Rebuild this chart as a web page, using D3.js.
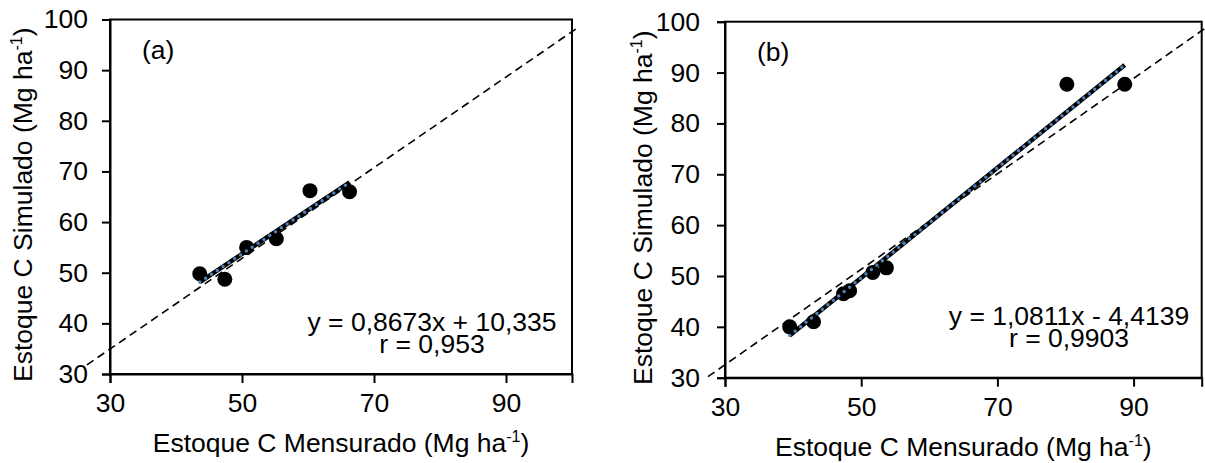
<!DOCTYPE html>
<html>
<head>
<meta charset="utf-8">
<script src="https://cdn.jsdelivr.net/npm/d3@7"></script>
<style>
  html, body { margin: 0; padding: 0; background: #fff; }
  svg { display: block; }
  text { font-family: "Liberation Sans", Arial, sans-serif; fill: #000; }
</style>
</head>
<body>
<svg id="chart" width="1205" height="463"></svg>
<script>
// Axis ticks shared by both panels
const xTicks = [30, 50, 70, 90];
const yTicks = [30, 40, 50, 60, 70, 80, 90, 100];

// Panel (a): measured vs simulated carbon stock
const measuredA  = [43.6, 47.4, 50.7, 55.2, 60.3, 66.3];
const simulatedA = [49.8, 48.7, 55.0, 56.7, 66.2, 66.0];
const fitA = [0.8673, 10.335];           // slope, intercept
const eqA = ["y = 0,8673x + 10,335", "r = 0,953"];
const refA = [[26.5, 31.8], [100.9, 98.4]];

// Panel (b)
const measuredB  = [39.5, 43.0, 47.4, 48.3, 51.7, 53.7, 80.2, 88.7];
const simulatedB = [40.0, 41.0, 46.5, 47.1, 50.7, 51.6, 87.7, 87.7];
const fitB = [1.0811, -4.4139];
const eqB = ["y = 1,0811x - 4,4139", "r = 0,9903"];
const refB = [[27.5, 30.2], [100.6, 98.8]];

const svg = d3.select("#chart");
const FS = 26.5;

function panel(opt) {
  const x = d3.scaleLinear().domain([30, 100]).range([opt.left, opt.right]);
  const y = d3.scaleLinear().domain([30, 100]).range([opt.bottom, opt.top]);
  const g = svg.append("g");

  // 1:1 reference line (dashed)
  g.append("line")
    .attr("x1", x(opt.ref[0][0])).attr("y1", y(opt.ref[0][1]))
    .attr("x2", x(opt.ref[1][0])).attr("y2", y(opt.ref[1][1]))
    .attr("stroke", "#000").attr("stroke-width", 1.6)
    .attr("stroke-dasharray", "8,5");

  // plot frame
  g.append("rect")
    .attr("x", opt.left).attr("y", opt.top)
    .attr("width", opt.right - opt.left).attr("height", opt.bottom - opt.top)
    .attr("fill", "none").attr("stroke", "#000").attr("stroke-width", 2);

  // axes
  const xAxis = g.append("g")
    .attr("transform", `translate(0,${opt.bottom})`)
    .call(d3.axisBottom(x).tickValues(xTicks).tickSize(9).tickPadding(9));
  const yAxis = g.append("g")
    .attr("transform", `translate(${opt.left},0)`)
    .call(d3.axisLeft(y).tickValues(yTicks).tickSize(8).tickPadding(opt.yPad));
  [xAxis, yAxis].forEach(a => {
    a.select(".domain").attr("stroke", "#000").attr("stroke-width", 2);
    a.selectAll(".tick line").attr("stroke", "#000").attr("stroke-width", 2);
    a.selectAll(".tick text").attr("font-size", FS)
      .style("font-family", '"Liberation Sans", Arial, sans-serif');
  });
  xAxis.selectAll(".tick text").attr("dy", "0.75em");

  // data points
  g.selectAll("circle.pt")
    .data(opt.xs.map((v, i) => [v, opt.ys[i]]))
    .join("circle")
    .attr("class", "pt")
    .attr("cx", d => x(d[0])).attr("cy", d => y(d[1]))
    .attr("r", 7.5).attr("fill", "#000");

  // linear trend line over the measured range
  const x0 = d3.min(opt.xs), x1 = d3.max(opt.xs);
  const f = v => opt.fit[0] * v + opt.fit[1];
  g.append("line")
    .attr("x1", x(x0)).attr("y1", y(f(x0)))
    .attr("x2", x(x1)).attr("y2", y(f(x1)))
    .attr("stroke", "#000").attr("stroke-width", 4.5);
  g.append("line")
    .attr("x1", x(x0)).attr("y1", y(f(x0)))
    .attr("x2", x(x1)).attr("y2", y(f(x1)))
    .attr("stroke", "#4f81bd").attr("stroke-width", 3.5)
    .attr("stroke-linecap", "round").attr("stroke-dasharray", "0,7");

  // panel letter
  g.append("text").attr("x", opt.left + 32).attr("y", opt.top + 39)
    .attr("font-size", FS).text(opt.letter);

  // equation and correlation, two lines in one block
  const eq = g.append("text").attr("text-anchor", "middle").attr("font-size", FS);
  eq.append("tspan").attr("x", opt.eqX).attr("y", opt.eqY).text(opt.eq[0]);
  eq.append("tspan").attr("x", opt.eqX).attr("y", opt.eqY + 22).text(opt.eq[1]);

  // axis titles with superscript unit
  const xt = g.append("text")
    .attr("x", (opt.left + opt.right) / 2).attr("y", opt.bottom + 78)
    .attr("text-anchor", "middle").attr("font-size", FS);
  xt.append("tspan").text("Estoque C Mensurado (Mg ha");
  xt.append("tspan").attr("font-size", 16).attr("dy", -10).text("-1");
  xt.append("tspan").attr("dy", 10).text(")");

  const yt = g.append("text")
    .attr("transform", `translate(${opt.yTitleX},${(opt.top + opt.bottom) / 2 + 8}) rotate(-90)`)
    .attr("text-anchor", "middle").attr("font-size", FS);
  yt.append("tspan").text("Estoque C Simulado (Mg ha");
  yt.append("tspan").attr("font-size", 16).attr("dy", -10).text("-1");
  yt.append("tspan").attr("dy", 10).text(")");
}

panel({
  left: 110, right: 572, top: 19.5, bottom: 374, yPad: 14,
  xs: measuredA, ys: simulatedA, fit: fitA, eq: eqA, ref: refA,
  letter: "(a)", eqX: 432, eqY: 331, yTitleX: 32
});

panel({
  left: 725, right: 1201.7, top: 21.7, bottom: 377.7, yPad: 17,
  xs: measuredB, ys: simulatedB, fit: fitB, eq: eqB, ref: refB,
  letter: "(b)", eqX: 1069, eqY: 325, yTitleX: 652
});
</script>
</body>
</html>
